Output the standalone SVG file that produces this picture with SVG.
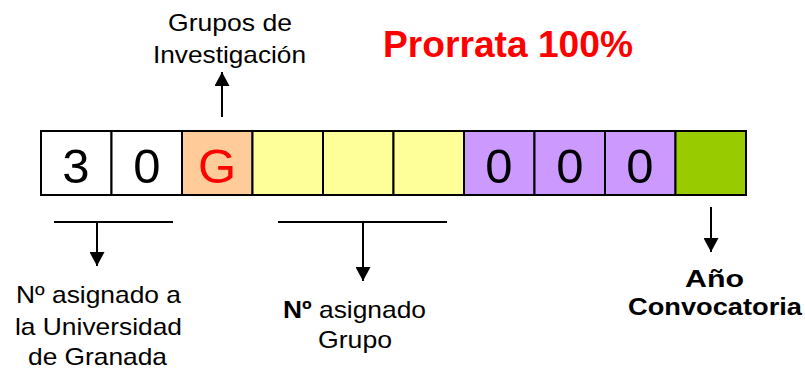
<svg xmlns="http://www.w3.org/2000/svg" width="805" height="369" viewBox="0 0 805 369">
<defs>
<style>
.cell{stroke:#000;stroke-width:2}
.dig{font-family:"Liberation Sans",Arial,sans-serif;font-size:49px;text-anchor:middle}
.lbl{font-family:"Liberation Sans",Arial,sans-serif;font-size:24px;text-anchor:middle;fill:#000}
.ln{stroke:#000;stroke-width:2;fill:none}
</style>
<marker id="ah" viewBox="0 0 10 10" refX="10" refY="5" markerWidth="14" markerHeight="15" markerUnits="userSpaceOnUse" orient="auto" preserveAspectRatio="none">
<path d="M0,0 L10,5 L0,10 z" fill="#000"/>
</marker>
</defs>
<rect width="805" height="369" fill="#fff"/>
<g id="code">
<rect class="cell" x="41" y="131" width="70.5" height="64" fill="#fff"/>
<rect class="cell" x="111.5" y="131" width="70.5" height="64" fill="#fff"/>
<rect class="cell" x="182" y="131" width="70.5" height="64" fill="#FFCC99"/>
<rect class="cell" x="252.5" y="131" width="70.5" height="64" fill="#FFFF99"/>
<rect class="cell" x="323" y="131" width="70.5" height="64" fill="#FFFF99"/>
<rect class="cell" x="393.5" y="131" width="70.5" height="64" fill="#FFFF99"/>
<rect class="cell" x="464" y="131" width="70.5" height="64" fill="#CC99FF"/>
<rect class="cell" x="534.5" y="131" width="70.5" height="64" fill="#CC99FF"/>
<rect class="cell" x="605" y="131" width="70.5" height="64" fill="#CC99FF"/>
<rect class="cell" x="675.5" y="131" width="70.5" height="64" fill="#99CC00"/>
<text class="dig" x="76" y="183">3</text>
<text class="dig" x="147" y="183">0</text>
<text class="dig" x="217" y="183" fill="#FF0000">G</text>
<text class="dig" x="499" y="183">0</text>
<text class="dig" x="570" y="183">0</text>
<text class="dig" x="640" y="183">0</text>
</g>
<g id="connectors">
<line class="ln" x1="54" y1="222" x2="173" y2="222"/>
<line class="ln" x1="97" y1="222" x2="97" y2="266" marker-end="url(#ah)"/>
<line class="ln" x1="278" y1="222" x2="447" y2="222"/>
<line class="ln" x1="363" y1="222" x2="363" y2="281" marker-end="url(#ah)"/>
<line class="ln" x1="711" y1="207" x2="711" y2="252" marker-end="url(#ah)"/>
<line class="ln" x1="222" y1="117" x2="222" y2="72" marker-end="url(#ah)"/>
</g>
<g id="label-grupos">
<text class="lbl" x="230" y="31" textLength="124" lengthAdjust="spacingAndGlyphs">Grupos de</text>
<text class="lbl" x="229.5" y="63" textLength="153" lengthAdjust="spacingAndGlyphs">Investigación</text>
</g>
<g id="title">
<text x="508" y="57" font-family="Liberation Sans, Arial, sans-serif" font-size="36" font-weight="bold" fill="#FF0000" text-anchor="middle" textLength="250" lengthAdjust="spacingAndGlyphs">Prorrata 100%</text>
</g>
<g id="label-universidad">
<text class="lbl" x="98.5" y="303" textLength="165" lengthAdjust="spacingAndGlyphs">Nº asignado a</text>
<text class="lbl" x="98.5" y="335" textLength="167" lengthAdjust="spacingAndGlyphs">la Universidad</text>
<text class="lbl" x="97.5" y="365" textLength="139" lengthAdjust="spacingAndGlyphs">de Granada</text>
</g>
<g id="label-grupo">
<text class="lbl" x="354.5" y="318" textLength="143" lengthAdjust="spacingAndGlyphs"><tspan font-weight="bold">Nº</tspan> asignado</text>
<text class="lbl" x="355" y="348" textLength="74" lengthAdjust="spacingAndGlyphs">Grupo</text>
</g>
<g id="label-anio">
<text class="lbl" x="714.5" y="287" font-weight="bold" textLength="59" lengthAdjust="spacingAndGlyphs">Año</text>
<text class="lbl" x="715" y="315" font-weight="bold" textLength="174" lengthAdjust="spacingAndGlyphs">Convocatoria</text>
</g>
</svg>
